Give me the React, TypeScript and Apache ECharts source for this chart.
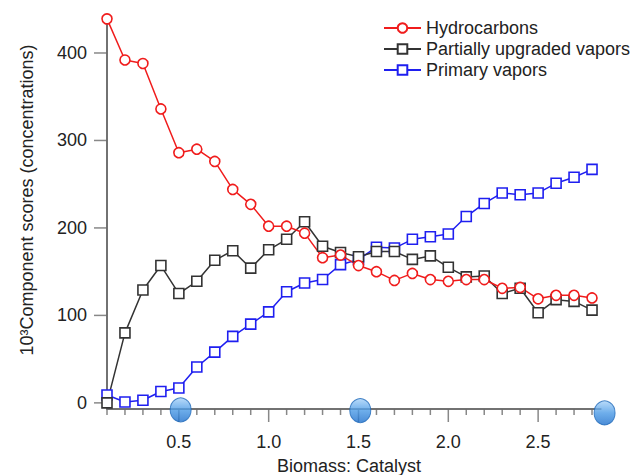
import React, { useEffect, useRef } from "react";
import * as echarts from "echarts";

const ratios = [0.1, 0.2, 0.3, 0.4, 0.5, 0.6, 0.7, 0.8, 0.9, 1.0, 1.1, 1.2, 1.3, 1.4, 1.5, 1.6, 1.7, 1.8, 1.9, 2.0, 2.1, 2.2, 2.3, 2.4, 2.5, 2.6, 2.7, 2.8];
const hydrocarbons = [439, 392, 388, 336, 286, 290, 276, 244, 227, 202, 202, 194, 166, 169, 157, 150, 140, 148, 141, 139, 141, 141, 131, 132, 119, 123, 123, 120];
const partiallyUpgraded = [0, 80, 129, 157, 125, 139, 163, 174, 154, 175, 187, 207, 179, 172, 167, 173, 173, 164, 168, 155, 144, 145, 125, 131, 103, 118, 116, 106];
const primaryVapors = [9, 1, 3, 13, 17, 41, 58, 76, 90, 104, 127, 137, 141, 158, 164, 178, 177, 187, 190, 193, 213, 228, 240, 238, 240, 251, 258, 267];
const yTickValues = [0, 100, 200, 300, 400];
const xMajorTicks = [0.5, 1.0, 1.5, 2.0, 2.5];
const xMinorTicks = ratios;
const sliderHandles = [[0.51, -8], [1.51, -8.8], [2.87, -11.5]];

const X_MIN = 0.1;
const X_MAX = 2.85;
const Y_MIN = -7;
const Y_MAX = 440;

const FONT = "Liberation Sans, Arial, sans-serif";
const AXIS_COLOR = "#6a6a6a";

export default function App() {
  const ref = useRef<HTMLDivElement>(null);
  useEffect(() => {
    document.body.style.margin = "0";
    const chart = echarts.init(ref.current!, null, { renderer: "svg" });
    const mk = (vals: number[]) => ratios.map((x, i) => [x, vals[i]]);
    const lineSeries = (name: string, vals: number[], color: string, symbol: string) => ({
      name,
      type: "line",
      data: mk(vals),
      symbol,
      symbolSize: 10,
      showSymbol: true,
      lineStyle: { color, width: 1.5 },
      itemStyle: { color: "#ffffff", borderColor: color, borderWidth: 1.6 },
      clip: false,
      z: 3,
    });
    const isMajor = (v: number) => xMajorTicks.some((m) => Math.abs(m - v) < 1e-6);
    const xMinorOnly = xMinorTicks.filter((v) => !isMajor(v));
    chart.setOption({
      animation: false,
      grid: { left: 107, right: 34, top: 18, bottom: 66 },
      legend: {
        data: ["Hydrocarbons", "Partially upgraded vapors", "Primary vapors"],
        orient: "vertical",
        left: 378,
        top: 14,
        itemWidth: 37,
        itemHeight: 12,
        itemGap: 3,
        textStyle: { fontSize: 18, color: "#222", fontFamily: FONT, lineHeight: 18 },
      },
      xAxis: {
        type: "value",
        min: X_MIN,
        max: X_MAX,
        splitLine: { show: false },
        axisLine: { show: true, onZero: false, lineStyle: { color: AXIS_COLOR, width: 1.5 } },
        axisTick: { show: false },
        axisLabel: {
          showMinLabel: false,
          showMaxLabel: false,
          fontSize: 18,
          fontFamily: FONT,
          color: "#222",
          margin: 24,
          formatter: (v: number) => v.toFixed(1),
        },
      },
      yAxis: {
        type: "value",
        min: Y_MIN,
        max: Y_MAX,
        splitLine: { show: false },
        axisLine: { show: true, lineStyle: { color: AXIS_COLOR, width: 1.5 } },
        axisTick: { show: false },
        axisLabel: { showMinLabel: false, showMaxLabel: false, fontSize: 18, fontFamily: FONT, color: "#222", margin: 20 },
      },
      graphic: [
        {
          type: "text",
          x: 27,
          y: 200,
          rotation: Math.PI / 2,
          style: {
            text: "10³Component scores (concentrations)",
            fontSize: 18,
            fontFamily: FONT,
            fill: "#222",
            textAlign: "center",
            textVerticalAlign: "middle",
          },
        },
        {
          type: "text",
          x: 349,
          y: 466,
          style: {
            text: "Biomass: Catalyst",
            fontSize: 18,
            fontFamily: FONT,
            fill: "#222",
            textAlign: "center",
            textVerticalAlign: "middle",
          },
        },
      ],
      series: [
        {
          type: "line",
          silent: true,
          clip: false,
          symbol: "none",
          z: 1,
          data: [[X_MIN, Y_MAX], [X_MIN, Y_MIN], [X_MAX, Y_MIN]],
          lineStyle: { color: AXIS_COLOR, width: 1.5 },
        },
        {
          type: "scatter",
          silent: true,
          clip: false,
          z: 1,
          symbol: "rect",
          symbolSize: [13, 1.5],
          symbolOffset: [-6.5, 0],
          data: yTickValues.map((v) => [X_MIN, v]),
          itemStyle: { color: AXIS_COLOR },
        },
        {
          type: "scatter",
          silent: true,
          clip: false,
          z: 1,
          symbol: "rect",
          symbolSize: [1.5, 13],
          symbolOffset: [0, 6.5],
          data: xMajorTicks.map((v) => [v, Y_MIN]),
          itemStyle: { color: AXIS_COLOR },
        },
        {
          type: "scatter",
          silent: true,
          clip: false,
          z: 1,
          symbol: "rect",
          symbolSize: [1.5, 6],
          symbolOffset: [0, 3],
          data: xMinorOnly.map((v) => [v, Y_MIN]),
          itemStyle: { color: AXIS_COLOR },
        },
        lineSeries("Primary vapors", primaryVapors, "#1f1ff0", "rect"),
        lineSeries("Partially upgraded vapors", partiallyUpgraded, "#333333", "rect"),
        lineSeries("Hydrocarbons", hydrocarbons, "#f01c1c", "circle"),
        {
          type: "scatter",
          data: sliderHandles,
          symbol: "circle",
          symbolSize: [21, 24],
          clip: false,
          z: 5,
          itemStyle: {
            color: {
              type: "linear",
              x: 0, y: 0, x2: 0, y2: 1,
              colorStops: [
                { offset: 0, color: "#a8d2f8" },
                { offset: 0.5, color: "#4a9ae6" },
                { offset: 1, color: "#1d6fcc" },
              ],
            },
            borderColor: "#1b66b8",
            borderWidth: 1,
          },
        },
      ],
    });
    return () => chart.dispose();
  }, []);
  return <div ref={ref} style={{ width: 635, height: 475 }} />;
}
